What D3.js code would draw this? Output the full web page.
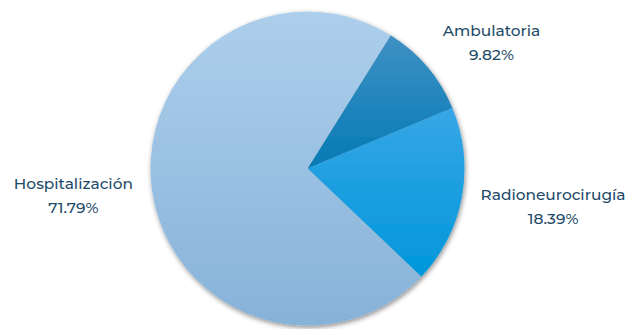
<!DOCTYPE html>
<html>
<head>
<meta charset="utf-8">
<script src="https://cdn.jsdelivr.net/npm/d3@7"></script>
<style>
  html, body { margin: 0; padding: 0; background: #fff; }
  svg { display: block; }
</style>
</head>
<body>
<div id="chart"></div>
<script>
// slice data, in drawing order (clockwise from the top-right)
const categories = ["Ambulatoria", "Radioneurocirugía", "Hospitalización"];
const values = [9.82, 18.39, 71.79];
const percentLabels = ["9.82%", "18.39%", "71.79%"];
const topColors = ["#3f91c4", "#37a6e6", "#adcfec"];
const bottomColors = ["#047ab4", "#0097db", "#87b2d8"];

const width = 629, height = 329;
const cx = 307.5, cy = 168.5, radius = 157;
const startOffset = 32 * Math.PI / 180;

const svg = d3.select("#chart").append("svg")
  .attr("width", width)
  .attr("height", height);

const defs = svg.append("defs");

// soft shadow around the pie
const shadow = defs.append("filter")
  .attr("id", "shadow")
  .attr("x", "-20%").attr("y", "-20%")
  .attr("width", "140%").attr("height", "140%");
shadow.append("feDropShadow")
  .attr("dx", 1).attr("dy", 2)
  .attr("stdDeviation", 2.5)
  .attr("flood-color", "#000")
  .attr("flood-opacity", 0.45);

const pie = d3.pie()
  .sort(null)
  .value(d => d)
  .startAngle(startOffset)
  .endAngle(startOffset + 2 * Math.PI);

const arcs = pie(values);

const arc = d3.arc().innerRadius(0).outerRadius(radius);

// vertical gradient per slice, across its own bounding box
arcs.forEach((d, i) => {
  const g = defs.append("linearGradient")
    .attr("id", "grad" + i)
    .attr("x1", 0).attr("y1", 0)
    .attr("x2", 0).attr("y2", 1);
  g.append("stop").attr("offset", "0%").attr("stop-color", topColors[i]);
  g.append("stop").attr("offset", "100%").attr("stop-color", bottomColors[i]);
});

const pieG = svg.append("g")
  .attr("transform", `translate(${cx},${cy})`)
  .attr("filter", "url(#shadow)");

pieG.selectAll("path")
  .data(arcs)
  .join("path")
  .attr("d", arc)
  .attr("fill", (d, i) => `url(#grad${i})`);

// labels: two lines, placed just outside the slice's mid angle
const labelG = svg.append("g")
  .attr("transform", `translate(${cx},${cy})`);

const labelRadius = radius + 19;
const lineGap = 24;

arcs.forEach((d, i) => {
  const t = labelG.append("text")
    .attr("text-anchor", "middle")
    .attr("font-family", "Montserrat, 'Noto Sans', sans-serif")
    .attr("font-size", "15.4px")
    .attr("font-weight", 500)
    .attr("fill", "#1e4b69");
  t.append("tspan").attr("x", 0).attr("y", 0).text(categories[i]);
  t.append("tspan").attr("x", 0).attr("y", lineGap).text(percentLabels[i]);

  const box = t.node().getBBox();
  const mid = (d.startAngle + d.endAngle) / 2;
  const s = Math.sin(mid), c = -Math.cos(mid);
  // anchor point on the mid angle, box pushed outward from it
  let px = s * labelRadius + Math.sign(s) * box.width / 2;
  const py = c * labelRadius + c * box.height / 2 + 2;
  // keep the block inside the page
  px = Math.min(px, width - cx - 2 - box.width / 2);
  px = Math.max(px, -cx + 2 + box.width / 2);
  const ox = px - (box.x + box.width / 2);
  const oy = py - (box.y + box.height / 2);
  t.attr("transform", `translate(${ox},${oy})`);
});
</script>
</body>
</html>
